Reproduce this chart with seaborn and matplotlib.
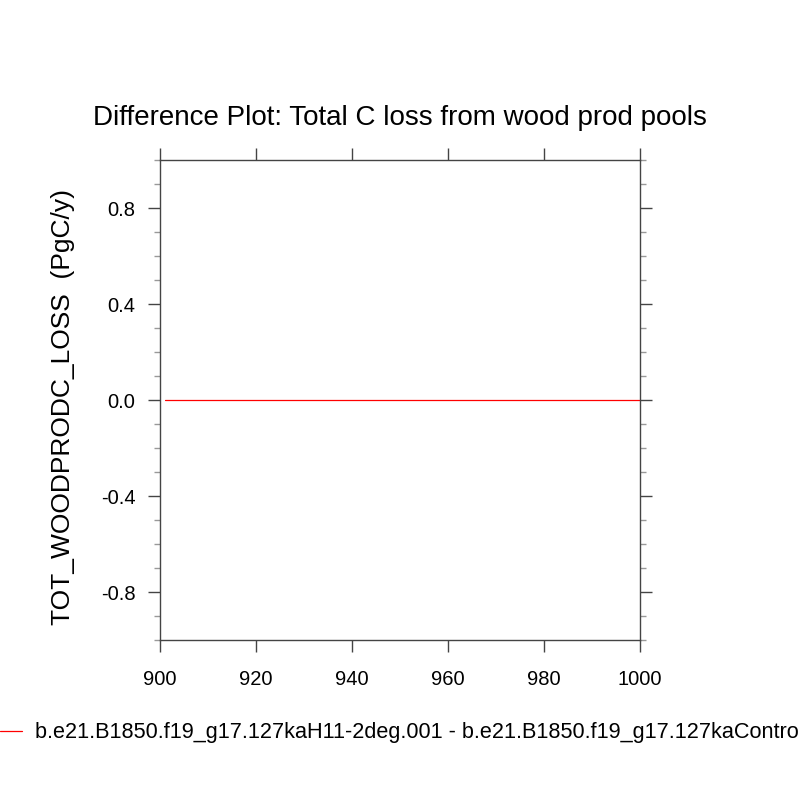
"""
Difference plot of total C loss from wood product pools (NCL style).
"""

import matplotlib
matplotlib.use('Agg')
import matplotlib.pyplot as plt
from matplotlib.ticker import MultipleLocator
import seaborn as sns
import pandas as pd

# Data
years = list(range(901, 1001))
diff = [0.0] * len(years)
case_label = ('b.e21.B1850.f19_g17.127kaH11-2deg.001 - '
              'b.e21.B1850.f19_g17.127kaControl.001')
title = 'Difference Plot: Total C loss from wood prod pools'
ylabel = 'TOT_WOODPRODC_LOSS  (PgC/y)'
xticks = [900, 920, 940, 960, 980, 1000]
yticks = [-0.8, -0.4, 0.0, 0.4, 0.8]

df = pd.DataFrame({'year': years, 'diff': diff})

sns.set_style('white')
plt.rcParams['font.family'] = ['Liberation Sans', 'DejaVu Sans']
plt.rcParams['text.color'] = 'black'
plt.rcParams['axes.labelcolor'] = 'black'
plt.rcParams['xtick.color'] = 'black'
plt.rcParams['ytick.color'] = 'black'

fig = plt.figure(figsize=(8, 8), dpi=100)
ax = fig.add_axes([0.2, 0.2, 0.6, 0.6])

sns.lineplot(data=df, x='year', y='diff', ax=ax, color='red',
             linewidth=0.9, label=case_label, legend=False)

ax.set_xlim(900, 1000)
ax.set_ylim(-1, 1)
ax.set_xticks(xticks)
ax.set_xticklabels([str(t) for t in xticks])
ax.set_yticks(yticks)
ax.set_yticklabels([f'{t:.1f}' for t in yticks])
ax.yaxis.set_minor_locator(MultipleLocator(0.1))

for side in ['left', 'right', 'top', 'bottom']:
    ax.spines[side].set_visible(True)
    ax.spines[side].set_color('#444444')
    ax.spines[side].set_linewidth(1.0)

ax.tick_params(axis='both', which='major', direction='out', length=8.6,
               width=1.0, color='#444444', labelsize=14.5,
               top=True, right=True, bottom=True, left=True)
ax.tick_params(axis='x', which='major', pad=13)
ax.tick_params(axis='y', which='major', pad=9)
ax.tick_params(axis='y', which='minor', direction='out', length=4.3,
               width=1.0, color='#999999', left=True, right=True)

ax.set_title(title, fontsize=20, pad=25)
ax.set_xlabel('')
ax.set_ylabel(ylabel, fontsize=19)
ax.yaxis.set_label_coords(-0.178, 0.485)

handles, labels = ax.get_legend_handles_labels()
fig.legend(handles, labels, loc='center left', bbox_to_anchor=(0.0, 0.084),
           frameon=False, fontsize=15.6, handlelength=1.0, handletextpad=0.6,
           borderpad=0, borderaxespad=0)

plt.savefig('out.png', dpi=100)
plt.close()
